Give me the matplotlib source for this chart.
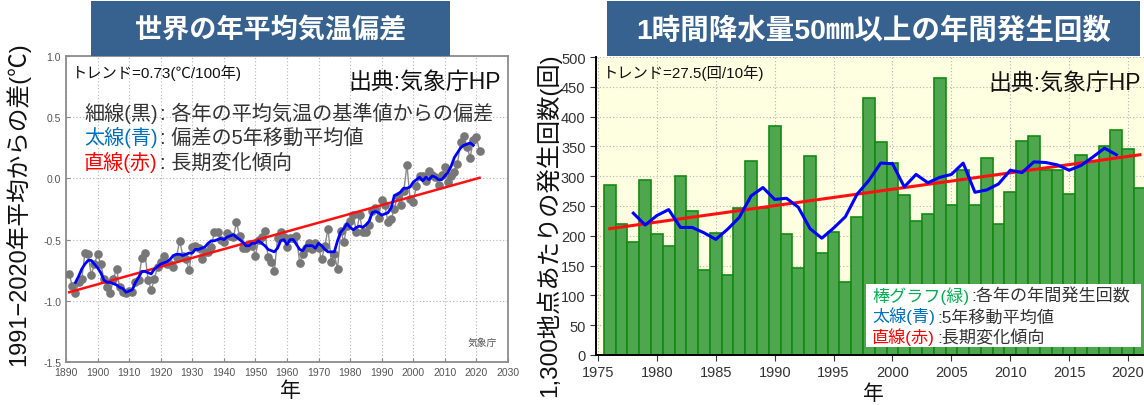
import matplotlib
matplotlib.use("Agg")
from matplotlib import pyplot as plt
from matplotlib.patches import Rectangle
import numpy as np

plt.rcParams['font.family'] = ['Liberation Sans', 'Noto Sans CJK JP', 'DejaVu Sans']

# ---- left: global annual mean temperature anomaly ----
temp_years = list(range(1891, 2022))
temp_anom = [
    -0.78, -0.88, -0.94, -0.85, -0.82, -0.61, -0.62, -0.79, -0.70, -0.62,   # 1891-1900
    -0.70, -0.82, -0.89, -0.94, -0.82, -0.74, -0.89, -0.93, -0.94, -0.92,   # 1901-1910
    -0.93, -0.85, -0.83, -0.65, -0.61, -0.83, -0.91, -0.82, -0.72, -0.68,   # 1911-1920
    -0.63, -0.70, -0.70, -0.72, -0.64, -0.51, -0.63, -0.66, -0.75, -0.56,   # 1921-1930
    -0.55, -0.57, -0.66, -0.60, -0.60, -0.56, -0.44, -0.44, -0.50, -0.52,   # 1931-1940
    -0.45, -0.47, -0.48, -0.36, -0.47, -0.57, -0.57, -0.54, -0.55, -0.63,   # 1941-1950
    -0.50, -0.48, -0.43, -0.64, -0.68, -0.76, -0.49, -0.44, -0.48, -0.56,   # 1951-1960
    -0.49, -0.49, -0.47, -0.69, -0.62, -0.57, -0.53, -0.58, -0.53, -0.57,   # 1961-1970
    -0.66, -0.55, -0.41, -0.68, -0.62, -0.74, -0.43, -0.52, -0.39, -0.35,   # 1971-1980
    -0.30, -0.44, -0.30, -0.44, -0.44, -0.38, -0.27, -0.24, -0.32, -0.18,   # 1981-1990
    -0.22, -0.36, -0.33, -0.25, -0.14, -0.22, -0.10, 0.11, -0.17, -0.19,    # 1991-2000
    -0.06, 0.02, 0.02, -0.02, 0.06, 0.03, 0.01, -0.05, 0.03, 0.09,          # 2001-2010
    -0.03, 0.02, 0.05, 0.12, 0.30, 0.35, 0.26, 0.17, 0.31, 0.34,            # 2011-2020
    0.22,                                                                   # 2021
]
temp_ma_years = list(range(1893, 2020))
temp_ma = [
    -0.85, -0.80, -0.74, -0.70, -0.67, -0.67, -0.70, -0.73,                  # 1893-1900
    -0.77, -0.83, -0.85, -0.85, -0.86, -0.87, -0.89, -0.90, -0.93, -0.92,   # 1901-1910
    -0.91, -0.85, -0.81, -0.76, -0.76, -0.77, -0.78, -0.74, -0.72, -0.70,   # 1911-1920
    -0.69, -0.68, -0.66, -0.63, -0.62, -0.62, -0.63, -0.62, -0.61, -0.61,   # 1921-1930
    -0.58, -0.58, -0.57, -0.56, -0.53, -0.51, -0.51, -0.50, -0.49, -0.50,   # 1931-1940
    -0.48, -0.47, -0.46, -0.48, -0.50, -0.52, -0.55, -0.55, -0.53, -0.53,   # 1941-1950
    -0.51, -0.53, -0.55, -0.58, -0.59, -0.60, -0.57, -0.51, -0.50, -0.54,   # 1951-1960
    -0.50, -0.50, -0.54, -0.58, -0.59, -0.55, -0.55, -0.55, -0.57, -0.53,   # 1961-1970
    -0.55, -0.58, -0.60, -0.60, -0.60, -0.51, -0.44, -0.41, -0.37, -0.40,   # 1971-1980
    -0.42, -0.40, -0.39, -0.40, -0.38, -0.35, -0.28, -0.27, -0.28, -0.30,   # 1981-1990
    -0.29, -0.28, -0.24, -0.14, -0.13, -0.11, -0.08, -0.08, -0.07, -0.03,   # 1991-2000
    -0.01, 0.01, -0.02, 0.01, -0.01, 0.02, 0.01, -0.01, -0.01, 0.02,        # 2001-2010
    0.05, 0.10, 0.17, 0.21, 0.25, 0.27, 0.28, 0.29, 0.27,                   # 2011-2019
]
temp_trend_years = [1891, 2021]
temp_trend = [-0.93, 0.005]

# ---- right: yearly count of >=50mm/h rainfall (per 1,300 stations) ----
rain_years = list(range(1976, 2022))
rain_count = [
    286, 220, 189, 294, 203, 183, 300, 242, 143, 204,   # 1976-1985
    135, 246, 326, 246, 384, 203, 146, 334, 171, 206,   # 1986-1995
    123, 231, 431, 358, 322, 268, 225, 237, 464, 252,   # 1996-2005
    310, 252, 330, 220, 273, 359, 368, 310, 310, 270,   # 2006-2015
    335, 326, 351, 378, 346, 280,                       # 2016-2021
]
rain_ma_years = list(range(1978, 2020))
rain_ma = [
    238, 218, 234, 244, 214, 214, 205, 194, 211, 231,   # 1978-1987
    267, 281, 261, 263, 248, 212, 196, 213, 232, 270,   # 1988-1997
    293, 322, 321, 282, 303, 289, 298, 303, 322, 273,   # 1998-2007
    277, 287, 310, 306, 324, 323, 319, 310, 318, 332,   # 2008-2017
    347, 336,                                           # 2018-2019
]
rain_trend_years = [1976, 2021]
rain_trend = [212, 336]

W, H = 1144, 406
fig = plt.figure(figsize=(W / 100, H / 100), dpi=100)
fig.patch.set_facecolor('white')

def fx(px):
    return px / W

def fy(py):
    return 1 - py / H

title_blue = '#37618f'
dot_grid = dict(color='#b4b4b4', linestyle=(0, (1, 2)), linewidth=0.8)

# ================= left panel =================
ax1 = fig.add_axes([fx(66), fy(363), fx(508 - 66), (363 - 57) / H])
ax1.plot(temp_years, temp_anom, color='#8a8a8a', lw=1.0, marker='o', ms=5.2,
         mfc='#777777', mec='#777777', zorder=3)
ax1.plot(temp_trend_years, temp_trend, color='#ff1010', lw=1.8, zorder=4)
ax1.plot(temp_ma_years, temp_ma, color='#0000ff', lw=2.0, zorder=5)
ax1.set_xlim(1890, 2030)
ax1.set_ylim(-1.5, 1.0)
ax1.set_xticks(np.arange(1890, 2031, 10))
ax1.set_yticks(np.arange(-1.5, 1.01, 0.5))
ax1.set_yticklabels(['%.1f' % v for v in np.arange(-1.5, 1.01, 0.5)])
ax1.grid(True, **dot_grid)
ax1.set_axisbelow(True)
ax1.tick_params(labelsize=7.5, labelcolor='#555555', color='#888888',
                direction='in', length=3)
for s in ax1.spines.values():
    s.set_color('#8c8c8c')
    s.set_linewidth(1.3)

ax1.text(0.013, 0.975, 'トレンド=0.73(℃/100年)', transform=ax1.transAxes,
         fontsize=11, va='top', ha='left', color='#111111')
ax1.text(0.985, 0.955, '出典:気象庁HP', transform=ax1.transAxes,
         fontsize=16.5, va='top', ha='right', color='#111111')
ax1.text(0.975, 0.05, '気象庁', transform=ax1.transAxes,
         fontsize=7, ha='right', va='bottom', color='#555555')

legend_left = [
    ('細線(黒)', '#333333', ': 各年の平均気温の基準値からの偏差'),
    ('太線(青)', '#0070c0', ': 偏差の5年移動平均値'),
    ('直線(赤)', '#ff0000', ': 長期変化傾向'),
]
for i, (head, col, rest) in enumerate(legend_left):
    t = ax1.text(fx(84), fy(113 + i * 24.5), head, color=col, fontsize=14.5,
                 va='center', ha='left', transform=fig.transFigure)
    ax1.annotate(rest, xy=(1, 0), xycoords=t, xytext=(2, 0),
                 textcoords='offset points', va='bottom', ha='left',
                 fontsize=14.5, color='#333333')

fig.text(fx(18), fy(204), '1991−2020年平均からの差(℃)', rotation=90,
         fontsize=17, ha='center', va='center', color='#111111')
fig.text(fx(290), fy(391), '年', fontsize=15, ha='center', va='center',
         color='#111111')

# ================= right panel =================
ax2 = fig.add_axes([fx(596), fy(356), fx(1144 - 596), (356 - 58) / H])
ax2.set_facecolor('#fefee0')
ax2.bar(rain_years, rain_count, width=1.0, color='#4ea64e',
        edgecolor='#138a13', linewidth=1.2, zorder=2)
ax2.plot(rain_trend_years, rain_trend, color='#ff1010', lw=2.2, zorder=4)
ax2.plot(rain_ma_years, rain_ma, color='#0000ff', lw=2.2, zorder=5)
ax2.set_xlim(1974.83, 2021.35)
ax2.set_ylim(0, 500)
ax2.set_xticks(np.arange(1975, 2021, 5))
ax2.set_yticks(np.arange(0, 501, 50))
ax2.grid(True, **dot_grid)
ax2.set_axisbelow(True)
ax2.tick_params(labelsize=10.5, labelcolor='#333333', color='#333333',
                direction='out', length=4)
ax2.spines['top'].set_visible(False)
ax2.spines['right'].set_visible(False)
ax2.spines['left'].set_linewidth(1.4)
ax2.spines['bottom'].set_linewidth(1.4)

ax2.text(0.012, 0.975, 'トレンド=27.5(回/10年)', transform=ax2.transAxes,
         fontsize=11, va='top', ha='left', color='#111111')
ax2.text(0.995, 0.955, '出典:気象庁HP', transform=ax2.transAxes,
         fontsize=16.5, va='top', ha='right', color='#111111')

ax2.add_patch(Rectangle((fx(866), fy(348)), fx(1141 - 866), (348 - 285) / H,
                        transform=fig.transFigure, facecolor='white',
                        edgecolor='none', zorder=6, clip_on=False))
legend_right = [
    ('棒グラフ(緑)', '#00b050', ':各年の年間発生回数'),
    ('太線(青)', '#0070c0', ':5年移動平均値'),
    ('直線(赤)', '#ff0000', ':長期変化傾向'),
]
for i, (head, col, rest) in enumerate(legend_right):
    t = ax2.text(fx(872), fy(296 + i * 20.5), head, color=col, fontsize=12.3,
                 va='center', ha='left', zorder=7, transform=fig.transFigure)
    ax2.annotate(rest, xy=(1, 0), xycoords=t, xytext=(1.5, 0),
                 textcoords='offset points', va='bottom', ha='left',
                 fontsize=12.3, color='#333333', zorder=7,
                 annotation_clip=False)

fig.text(fx(548), fy(225), '1,300地点あたりの発生回数(回)', rotation=90,
         fontsize=17.5, ha='center', va='center', color='#111111')
fig.text(fx(873), fy(394), '年', fontsize=15, ha='center', va='center',
         color='#111111')

# ================= title boxes =================
titles = [
    (91, 450, '世界の年平均気温偏差', 19.5),
    (607, 1140, '1時間降水量50㎜以上の年間発生回数', 20.5),
]
for x0, x1, label, size in titles:
    fig.add_artist(Rectangle((fx(x0), fy(57)), fx(x1 - x0), 55 / H,
                             transform=fig.transFigure, facecolor=title_blue,
                             edgecolor='none', zorder=8))
    fig.text(fx((x0 + x1) / 2), fy(31), label, fontsize=size, fontweight='bold',
             color='white', ha='center', va='center', zorder=9)

fig.savefig('out.png', dpi=100, facecolor='white')
